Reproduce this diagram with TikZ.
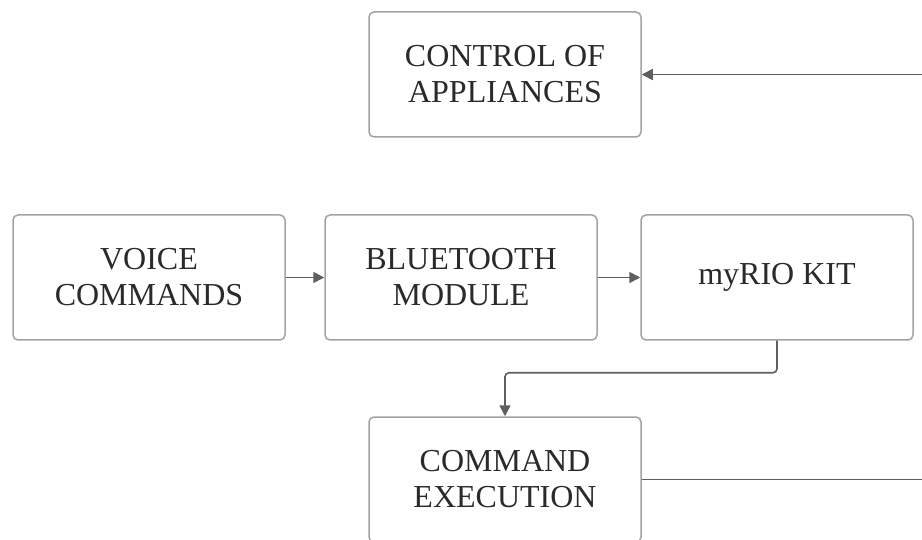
\documentclass[tikz,border=0pt]{standalone}
\usepackage{fontspec}
\setmainfont{Liberation Serif}
\usetikzlibrary{arrows.meta}
\definecolor{boxline}{HTML}{A3A3A3}
\definecolor{conline}{HTML}{5F5F5F}
\definecolor{txt}{HTML}{2A2A2A}
\begin{document}
\begin{tikzpicture}[x=1pt,y=-1pt,
  blk/.style={draw=boxline, line width=1.5pt, rounded corners=5pt, fill=white,
    minimum width=272pt, minimum height=125pt, inner sep=0pt, align=center,
    text=txt, font=\fontsize{32}{36}\selectfont},
  con/.style={draw=conline, line width=1.6pt, -{Triangle[length=11pt,width=11pt]}}]
\clip (0,0) rectangle (922,540);
\fill[white] (0,0) rectangle (922,540);
\node[blk] (ctrl) at (505,74.5) {CONTROL OF\\APPLIANCES};
\node[blk] (voice) at (149,277.5) {VOICE\\COMMANDS};
\node[blk] (bt) at (461,277.5) {BLUETOOTH\\MODULE};
\node[blk] (myrio) at (777,277.5) {myRIO KIT};
\node[blk] (cmd) at (505,479.5) {COMMAND\\EXECUTION};
\coordinate (r1) at (940,479.5);
\coordinate (r2) at (940,74.5);
\draw[con] (voice) -- (bt);
\draw[con] (bt) -- (myrio);
\draw[con, rounded corners=4pt] (myrio.south) -- ++(0,32) -| (cmd.north);
\draw[con] (cmd.east) -- (r1) -- (r2) -- (ctrl.east);
\end{tikzpicture}
\end{document}
